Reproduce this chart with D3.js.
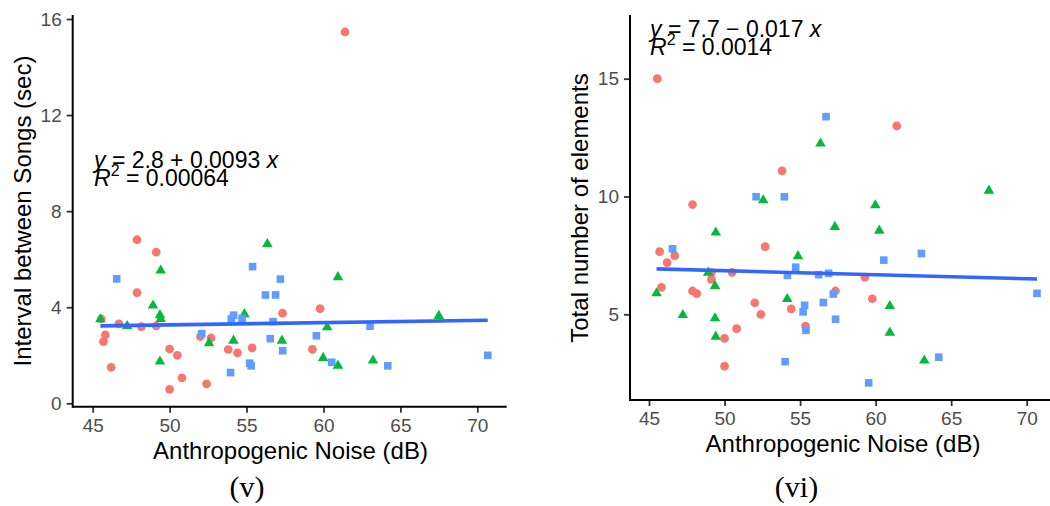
<!DOCTYPE html>
<html>
<head>
<meta charset="utf-8">
<script src="https://cdn.jsdelivr.net/npm/d3@7"></script>
<style>
  html, body { margin: 0; padding: 0; background: #fff; }
  svg { display: block; }
  text { font-family: "Liberation Sans", Arial, Helvetica, sans-serif; }
</style>
</head>
<body>
<svg id="chart" width="1050" height="506"></svg>
<script>
// ---- data: anthropogenic noise (dB) per bird, by group ----
const redNoise = [61.4, 47.88, 47.88, 49.13, 49.13, 59.78, 57.34, 45.55, 46.7, 48.16, 45.82, 45.7,
                  46.2, 50.0, 50.0, 50.5, 50.8, 52.0, 52.69, 52.4, 53.81, 54.41, 55.36, 59.28];
const redInterval = [15.46, 6.81, 4.61, 6.29, 3.22, 3.94, 3.75, 3.51, 3.31, 3.19, 2.85, 2.57,
                     1.5, 2.26, 0.58, 2.0, 1.06, 2.78, 2.72, 0.81, 2.24, 2.10, 2.31, 2.25];
const redElements = [13.0, 9.66, 5.99, 6.77, 6.48, 5.66, 5.99, 15.0, 7.49, 5.88, 6.14, 7.66,
                     7.19, 3.98, 2.80, 6.78, 4.39, 5.49, 7.87, 5.0, 11.09, 5.23, 4.5, 6.58];

const greenNoise = [56.35, 67.5, 52.56, 59.98, 49.42, 49.42, 57.3, 60.24, 54.86, 48.92, 49.37, 49.37,
                    45.5, 54.15, 60.94, 60.94, 47.24, 63.22];
const greenInterval = [6.63, 3.64, 2.5, 1.89, 5.53, 3.51, 2.61, 3.17, 3.71, 4.07, 3.67, 1.74,
                       3.5, 2.61, 5.25, 1.57, 3.22, 1.78];
const greenElements = [12.25, 10.25, 9.84, 9.63, 8.47, 4.05, 8.71, 8.55, 7.47, 6.77, 6.2, 4.83,
                       5.89, 5.65, 5.35, 4.22, 4.97, 3.04];

const blueNoise = [46.56, 52.09, 53.96, 54.01, 54.16, 54.71, 55.2, 55.3, 55.39, 56.23, 56.54, 56.72,
                   56.89, 57.2, 57.35, 59.54, 60.54, 63.03, 64.18, 70.68];
const blueInterval = [5.18, 2.90, 1.28, 3.51, 3.67, 3.54, 1.67, 1.56, 5.69, 4.51, 2.69, 3.40,
                      4.51, 5.17, 2.19, 2.81, 1.71, 3.21, 1.56, 2.0];
const blueElements = [7.78, 9.99, 9.99, 2.99, 6.65, 7.0, 5.10, 5.38, 4.32, 6.68, 5.5, 13.39,
                      6.74, 5.86, 4.79, 2.09, 7.3, 7.58, 3.18, 5.89];

// ---- axis ticks ----
const xTicks = [45, 50, 55, 60, 65, 70];
const intervalTicks = [0, 4, 8, 12, 16];
const elementTicks = [5, 10, 15];

// ---- fitted lines (intercept, slope) and their printed statistics ----
const intervalFit = [2.8, 0.0093];
const elementsFit = [7.7, -0.017];
const intervalEq = ["2.8 + 0.0093", "0.00064"];
const elementsEq = ["7.7 \u2212 0.017", "0.0014"];

const panelLabels = ["(v)", "(vi)"];
const xTitle = "Anthropogenic Noise (dB)";
const yTitles = ["Interval between Songs (sec)", "Total number of elements"];

// ---- styling ----
const COLORS = { red: "#F8766D", green: "#00BA38", blue: "#619CFF" };
const FIT_COLOR = "#3366FF";
const TICK_TEXT = "#4D4D4D";

const svg = d3.select("#chart");

const groups = (yRed, yGreen, yBlue) => [
  { color: COLORS.red,   shape: d3.symbolCircle,   size: 60, xs: redNoise,   ys: yRed },
  { color: COLORS.green, shape: d3.symbolTriangle, size: 48, xs: greenNoise, ys: yGreen },
  { color: COLORS.blue,  shape: d3.symbolSquare,   size: 58, xs: blueNoise,  ys: yBlue }
];

function drawPanel(cfg) {
  const g = svg.append("g");
  const x = d3.scaleLinear().domain([45, 70]).range(cfg.xRange);
  const y = d3.scaleLinear().domain(cfg.yDomain).range(cfg.yRange);

  // points
  cfg.groups.forEach(grp => {
    const sym = d3.symbol().type(grp.shape).size(grp.size);
    g.append("g").selectAll("path")
      .data(grp.xs.map((v, i) => [v, grp.ys[i]]))
      .join("path")
      .attr("d", sym)
      .attr("transform", d => `translate(${x(d[0])},${y(d[1])})`)
      .attr("fill", grp.color);
  });

  // linear fit across the observed noise range
  const allX = [].concat(...cfg.groups.map(d => d.xs));
  const [x0, x1] = d3.extent(allX);
  const fit = v => cfg.fit[0] + cfg.fit[1] * v;
  g.append("line")
    .attr("x1", x(x0)).attr("y1", y(fit(x0)))
    .attr("x2", x(x1)).attr("y2", y(fit(x1)))
    .attr("stroke", FIT_COLOR).attr("stroke-width", 3.6);

  // axes
  const xAxis = g.append("g")
    .attr("transform", `translate(0,${cfg.bottom})`)
    .call(d3.axisBottom(x).tickValues(xTicks).tickSize(6).tickPadding(6).tickFormat(d3.format("d")));
  const yAxis = g.append("g")
    .attr("transform", `translate(${cfg.left},0)`)
    .call(d3.axisLeft(y).tickValues(cfg.yTicks).tickSize(6).tickPadding(5).tickFormat(d3.format("d")));
  [xAxis, yAxis].forEach(a => {
    a.select(".domain").remove();
    a.selectAll(".tick line").attr("stroke", "#333333").attr("stroke-width", 1.8);
    a.selectAll(".tick text").attr("fill", TICK_TEXT)
      .style("font-size", "19px")
      .style("font-family", "'Liberation Sans', Arial, sans-serif");
  });
  g.append("line").attr("x1", cfg.left).attr("x2", cfg.right)
    .attr("y1", cfg.bottom).attr("y2", cfg.bottom)
    .attr("stroke", "#000").attr("stroke-width", 2);
  g.append("line").attr("x1", cfg.left).attr("x2", cfg.left)
    .attr("y1", cfg.top).attr("y2", cfg.bottom + 1)
    .attr("stroke", "#000").attr("stroke-width", 2);

  // titles
  g.append("text")
    .attr("x", cfg.xTitlePos[0]).attr("y", cfg.xTitlePos[1])
    .attr("text-anchor", "middle")
    .style("font-size", "24px").attr("fill", "#000")
    .text(xTitle);
  g.append("text")
    .attr("transform", `translate(${cfg.yTitlePos[0]},${cfg.yTitlePos[1]}) rotate(-90)`)
    .attr("text-anchor", "middle")
    .style("font-size", "24px").attr("fill", "#000")
    .text(cfg.yTitle);

  // regression equation and R squared
  const eq = g.append("text")
    .attr("x", cfg.eqPos[0]).attr("y", cfg.eqPos[1])
    .style("font-size", "23px").attr("fill", "#000");
  eq.append("tspan").style("font-style", "italic").text("y");
  eq.append("tspan").text(" = " + cfg.eq[0] + " ");
  eq.append("tspan").style("font-style", "italic").text("x");

  const r2 = g.append("text")
    .attr("x", cfg.eqPos[0]).attr("y", cfg.eqPos[1] + 18)
    .style("font-size", "23px").attr("fill", "#000");
  r2.append("tspan").style("font-style", "italic").text("R");
  r2.append("tspan").attr("dy", -10).style("font-size", "16px").text("2");
  r2.append("tspan").attr("dy", 10).text(" = " + cfg.eq[1]);

  // panel letter
  g.append("text")
    .attr("x", cfg.labelPos[0]).attr("y", cfg.labelPos[1])
    .attr("text-anchor", "middle")
    .style("font-family", "'Liberation Serif', 'Times New Roman', serif")
    .style("font-size", "30px").attr("fill", "#000")
    .text(cfg.label);
}

drawPanel({
  groups: groups(redInterval, greenInterval, blueInterval),
  xRange: [92.7, 477.3], yDomain: [0, 16], yRange: [403.3, 19],
  left: 72.7, right: 506.7, top: 15, bottom: 406.7,
  yTicks: intervalTicks, fit: intervalFit, eq: intervalEq,
  eqPos: [94, 168], xTitlePos: [290.5, 459], yTitlePos: [31, 211],
  yTitle: yTitles[0], label: panelLabels[0], labelPos: [247, 497]
});

drawPanel({
  groups: groups(redElements, greenElements, blueElements),
  xRange: [649, 1026.7], yDomain: [5, 15], yRange: [314.3, 78.7],
  left: 630, right: 1050, top: 15, bottom: 400,
  yTicks: elementTicks, fit: elementsFit, eq: elementsEq,
  eqPos: [650, 37], xTitlePos: [843, 452], yTitlePos: [588, 208],
  yTitle: yTitles[1], label: panelLabels[1], labelPos: [796.5, 497]
});
</script>
</body>
</html>
